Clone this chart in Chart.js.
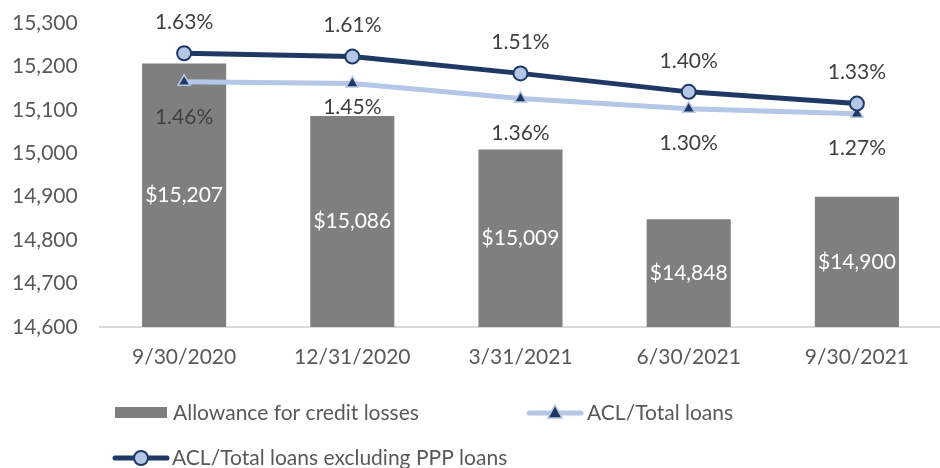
<!DOCTYPE html>
<html>
<head>
<meta charset="utf-8">
<script src="https://cdn.jsdelivr.net/npm/chart.js@4"></script>
<style>
  html, body { margin: 0; padding: 0; background: #fff; overflow: hidden; }
  #wrap { position: relative; width: 950px; height: 468px; }
</style>
</head>
<body>
<div id="wrap"><canvas id="aclChart"></canvas></div>
<script>
const quarters = ['9/30/2020', '12/31/2020', '3/31/2021', '6/30/2021', '9/30/2021'];
const allowance = [15207, 15086, 15009, 14848, 14900];
const aclTotal = [1.46, 1.45, 1.36, 1.30, 1.27];
const aclExPpp = [1.63, 1.61, 1.51, 1.40, 1.33];
const yTicks = [14600, 14700, 14800, 14900, 15000, 15100, 15200, 15300];

const navy = '#1f3864';
const lightBlue = '#b4c7e7';
const barGray = '#7f7f7f';
const font = 'Lato, "Open Sans", sans-serif';

// value labels, drawn from element positions
const labelPlugin = {
    id: 'valueLabels',
    afterDatasetsDraw(chart) {
        const ctx = chart.ctx;
        const yScale = chart.scales.y;
        ctx.save();
        ctx.font = '21px ' + font;
        ctx.textAlign = 'center';
        ctx.textBaseline = 'middle';

        chart.getDatasetMeta(0).data.forEach((bar, i) => {
            const bottom = yScale.getPixelForValue(yScale.min);
            ctx.fillStyle = '#ffffff';
            ctx.fillText('$' + allowance[i].toLocaleString('en-US'), bar.x, (bar.y + bottom) / 2);
        });
        chart.getDatasetMeta(1).data.forEach((pt, i) => {
            ctx.fillStyle = '#404040';
            const off = i === 1 ? 24 : 35;
            ctx.fillText(aclTotal[i].toFixed(2) + '%', pt.x, pt.y + off);
        });
        chart.getDatasetMeta(2).data.forEach((pt, i) => {
            ctx.fillStyle = '#404040';
            ctx.fillText(aclExPpp[i].toFixed(2) + '%', pt.x, pt.y - 31);
        });
        ctx.restore();
    }
};

// legend laid out like the original (two rows, left aligned)
const legendPlugin = {
    id: 'customLegend',
    afterDraw(chart) {
        const ctx = chart.ctx;
        const ds = chart.data.datasets;
        ctx.save();
        ctx.font = '21px ' + font;
        ctx.textBaseline = 'middle';
        ctx.textAlign = 'left';

        // bar item
        ctx.fillStyle = barGray;
        ctx.fillRect(115, 407, 52, 11);
        ctx.fillStyle = '#595959';
        ctx.fillText(ds[0].label, 173, 413);

        // light line with triangle
        ctx.strokeStyle = lightBlue;
        ctx.lineWidth = 5;
        ctx.lineCap = 'round';
        ctx.beginPath();
        ctx.moveTo(529, 413);
        ctx.lineTo(581, 413);
        ctx.stroke();
        ctx.beginPath();
        ctx.moveTo(555, 405);
        ctx.lineTo(562, 418);
        ctx.lineTo(548, 418);
        ctx.closePath();
        ctx.fillStyle = navy;
        ctx.fill();
        ctx.lineWidth = 1.5;
        ctx.strokeStyle = lightBlue;
        ctx.stroke();
        ctx.fillStyle = '#595959';
        ctx.fillText(ds[1].label, 587, 413);

        // navy line with circle
        ctx.strokeStyle = navy;
        ctx.lineWidth = 5;
        ctx.beginPath();
        ctx.moveTo(115, 458);
        ctx.lineTo(167, 458);
        ctx.stroke();
        ctx.beginPath();
        ctx.arc(141, 458, 7, 0, Math.PI * 2);
        ctx.fillStyle = lightBlue;
        ctx.fill();
        ctx.lineWidth = 2;
        ctx.strokeStyle = navy;
        ctx.stroke();
        ctx.fillStyle = '#595959';
        ctx.fillText(ds[2].label, 172, 458);
        ctx.restore();
    }
};

new Chart(document.getElementById('aclChart'), {
    data: {
        labels: quarters,
        datasets: [
            {
                type: 'bar',
                label: 'Allowance for credit losses',
                data: allowance,
                backgroundColor: barGray,
                barPercentage: 0.5,
                categoryPercentage: 1,
                yAxisID: 'y',
                order: 3
            },
            {
                type: 'line',
                label: 'ACL/Total loans',
                data: aclTotal,
                borderColor: lightBlue,
                borderWidth: 5,
                pointStyle: 'triangle',
                pointRadius: 7,
                pointBackgroundColor: navy,
                pointBorderColor: lightBlue,
                pointBorderWidth: 1.5,
                tension: 0,
                yAxisID: 'y2',
                order: 2
            },
            {
                type: 'line',
                label: 'ACL/Total loans excluding PPP loans',
                data: aclExPpp,
                borderColor: navy,
                borderWidth: 5,
                pointStyle: 'circle',
                pointRadius: 7,
                pointBackgroundColor: lightBlue,
                pointBorderColor: navy,
                pointBorderWidth: 2,
                tension: 0,
                yAxisID: 'y2',
                order: 1
            }
        ]
    },
    options: {
        responsive: true,
        maintainAspectRatio: false,
        animation: false,
        layout: { padding: { left: 12, right: 1, top: 23, bottom: 91 } },
        plugins: {
            legend: { display: false },
            tooltip: { enabled: false }
        },
        scales: {
            x: {
                grid: { display: false, drawTicks: false },
                border: { color: '#d9d9d9', width: 2 },
                ticks: { color: '#595959', font: { family: font, size: 21 }, padding: 18, maxRotation: 0 },
                afterFit(scale) { scale.height = 50; }
            },
            y: {
                position: 'left',
                min: 14600,
                max: 15300,
                afterBuildTicks(scale) { scale.ticks = yTicks.map(v => ({ value: v })); },
                grid: { display: false, drawTicks: false },
                border: { display: false },
                ticks: {
                    color: '#595959',
                    font: { family: font, size: 21 },
                    padding: 0,
                    crossAlign: 'far',
                    callback: v => v.toLocaleString('en-US')
                },
                afterFit(scale) { scale.width = 88; }
            },
            y2: {
                display: false,
                min: 0,
                max: 1.81
            }
        }
    },
    plugins: [labelPlugin, legendPlugin]
});
</script>
</body>
</html>
